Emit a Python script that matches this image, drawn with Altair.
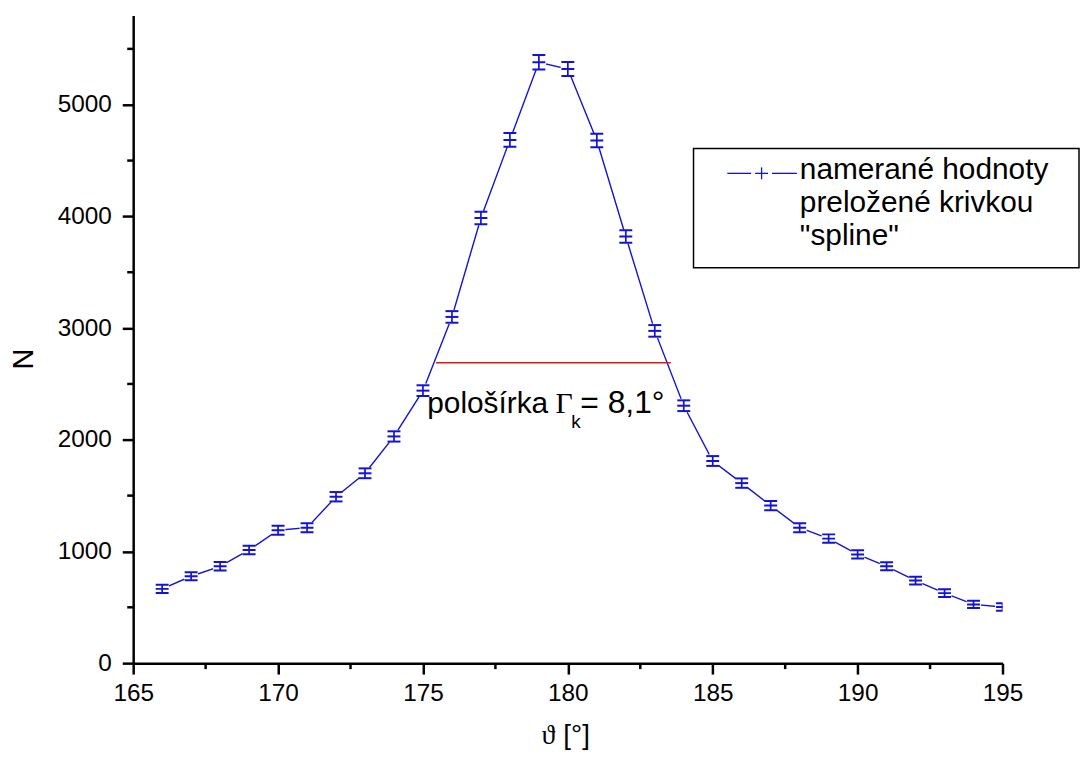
import altair as alt
import pandas as pd

# ---- data ----
theta = list(range(166, 196))
counts = [665, 778, 867, 1014, 1190, 1213, 1490, 1700, 2030, 2440,
          3100, 3985, 4685, 5380, 5320, 4680, 3820, 2975, 2305, 1810,
          1612, 1411, 1213, 1115, 973, 867, 739, 627, 526, 503]
errors = [36, 36, 38, 38, 40, 40, 42, 44, 46, 48,
          52, 56, 61, 65, 63, 61, 56, 52, 48, 44,
          42, 41, 40, 38, 37, 36, 35, 34, 33, 33]
half_x = [175.45, 183.55]
half_y = [2690]
x_major = [165, 170, 175, 180, 185, 190, 195]
x_minor = [167.5, 172.5, 177.5, 182.5, 187.5, 192.5]
y_major = [0, 1000, 2000, 3000, 4000, 5000]
y_minor = [500, 1500, 2500, 3500, 4500, 5500]

legend_lines = ["nameran\u00e9 hodnoty", "prelo\u017een\u00e9 krivkou", "\"spline\""]

W, H = 875, 652
BLUE = "#1212d8"
SANS = "Liberation Sans"
SERIF = "Liberation Serif"

df = pd.DataFrame({"theta": theta, "N": counts, "err": errors})
df["lo"] = df["N"] - df["err"]
df["hi"] = df["N"] + df["err"]

xs = alt.Scale(domain=[165, 195], nice=False, zero=False)
ys = alt.Scale(domain=[0, 5800], nice=False, zero=True)

x_axis = alt.Axis(values=x_major, format="d", title=None, grid=False,
                  tickSize=11, tickWidth=2.5, tickColor="black",
                  domainWidth=2.5, domainColor="black",
                  labelFont=SANS, labelFontSize=24.5, labelColor="black",
                  labelPadding=8, labelFlush=False)
y_axis = alt.Axis(values=y_major, format="d", title=None, grid=False,
                  tickSize=11, tickWidth=2.5, tickColor="black",
                  domainWidth=2.5, domainColor="black",
                  labelFont=SANS, labelFontSize=24.5, labelColor="black",
                  labelPadding=11, labelFlush=False)


def X(field):
    return alt.X(f"{field}:Q", scale=xs, axis=x_axis)


def Y(field):
    return alt.Y(f"{field}:Q", scale=ys, axis=y_axis)


base = alt.Chart(df)

line = base.mark_line(color=BLUE, strokeWidth=1.4, clip=True).encode(x=X("theta"), y=Y("N"))
gaps = base.mark_point(shape="circle", filled=True, fill="white", color="white",
                       size=230, opacity=1, strokeWidth=0, clip=True).encode(x=X("theta"), y=Y("N"))
bars = base.mark_rule(color=BLUE, strokeWidth=1.7, clip=True).encode(
    x=X("theta"), y=Y("lo"), y2="hi:Q")


def cap(field):
    return base.mark_tick(color=BLUE, orient="horizontal", size=13, thickness=2,
                          opacity=1, clip=True).encode(x=X("theta"), y=Y(field))


half = alt.Chart(pd.DataFrame({"x1": [half_x[0]], "x2": [half_x[1]], "y": half_y})).mark_rule(
    color="#e81414", strokeWidth=1.6).encode(x=X("x1"), x2="x2:Q", y=Y("y"))

xminor = alt.Chart(pd.DataFrame({"v": x_minor})).mark_rule(color="black", strokeWidth=2.5).encode(
    x=X("v"), y=alt.value(H), y2=alt.value(H + 6))
yminor = alt.Chart(pd.DataFrame({"v": y_minor})).mark_rule(color="black", strokeWidth=2.5).encode(
    y=Y("v"), x=alt.value(0), x2=alt.value(-6))

one = alt.Chart(pd.DataFrame({"a": [0]}))


def txt(s, x, y, size=28, font=SANS, align="left", baseline="alphabetic", angle=0):
    kw = dict(font=font, fontSize=size, align=align, baseline=baseline, color="black")
    if angle:
        kw["angle"] = angle
    return one.mark_text(**kw).encode(x=alt.value(x), y=alt.value(y), text=alt.value(s))


# titles
ytitle = txt("N", -110, 346, size=29, align="center", baseline="middle", angle=270)
xtitle_a = txt("\u03d1", 418, 733, size=28, font=SERIF, align="center")
xtitle_b = txt("[\u00b0]", 433, 733, size=28)

# annotation
ann1 = txt("polo\u0161\u00edrka", 296, 400, size=30)
ann2 = txt("\u0393", 425, 400, size=30, font=SERIF)
ann3 = txt("k", 441, 415, size=19)
ann4 = txt("= 8,1\u00b0", 450, 400, size=32)

# legend
box = one.mark_rect(fill="white", stroke="black", strokeWidth=1.5).encode(
    x=alt.value(564), x2=alt.value(952), y=alt.value(134), y2=alt.value(254))
seg1 = one.mark_rule(color=BLUE, strokeWidth=1.3).encode(
    x=alt.value(598), x2=alt.value(622), y=alt.value(159))
seg2 = one.mark_rule(color=BLUE, strokeWidth=1.3).encode(
    x=alt.value(643), x2=alt.value(668), y=alt.value(159))
plus_h = one.mark_rule(color=BLUE, strokeWidth=1.3).encode(
    x=alt.value(626), x2=alt.value(639), y=alt.value(159))
plus_v = one.mark_rule(color=BLUE, strokeWidth=1.3).encode(
    x=alt.value(632.5), y=alt.value(153), y2=alt.value(165))
leg1 = txt(legend_lines[0], 671, 165, size=30)
leg2 = txt(legend_lines[1], 671, 198, size=30)
leg3 = txt(legend_lines[2], 671, 231, size=30)

chart = alt.layer(
    line, gaps, bars, cap("lo"), cap("hi"), cap("N"), half, xminor, yminor,
    ytitle, xtitle_a, xtitle_b, ann1, ann2, ann3, ann4,
    box, seg1, seg2, plus_h, plus_v, leg1, leg2, leg3,
).properties(
    width=W, height=H, background="white",
    padding={"left": 126, "top": 5, "right": 78, "bottom": 87},
    autosize=alt.AutoSizeParams(type="none"),
).configure_view(stroke=None)

chart.save("out.html", embed_options={"renderer": "svg", "actions": False})
